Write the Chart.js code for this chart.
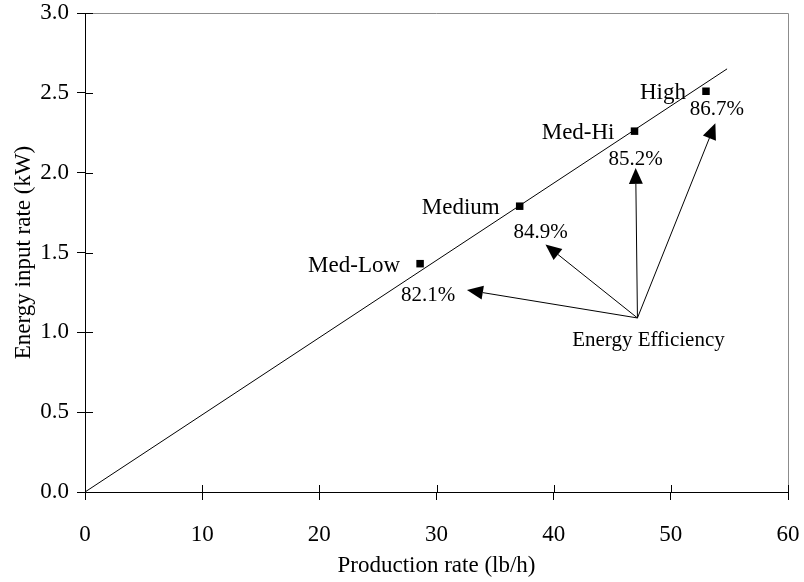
<!DOCTYPE html>
<html>
<head>
<meta charset="utf-8">
<script src="https://cdn.jsdelivr.net/npm/chart.js@4.4.1/dist/chart.umd.min.js"></script>
<style>
  html, body { margin: 0; padding: 0; background: #fff; }
  #wrap { width: 804px; height: 582px; }
</style>
</head>
<body>
<div id="wrap"><canvas id="chart" width="804" height="582"></canvas></div>
<script>
// speed settings: production rate vs energy input rate
const speedLabels = ['Med-Low', 'Medium', 'Med-Hi', 'High'];
const productionRate = [28.6, 37.1, 46.9, 53.0];
const energyInput = [1.43, 1.79, 2.26, 2.51];
const efficiencyLabels = ['82.1%', '84.9%', '85.2%', '86.7%'];

// straight reference line
const lineX = [0, 54.8];
const lineY = [0, 2.65];

// arrows from the "Energy Efficiency" note
const arrowFromX = 47.15;
const arrowFromY = 1.09;
const arrowTipX = [32.6, 39.3, 47.0, 53.8];
const arrowTipY = [1.265, 1.55, 2.03, 2.31];

const xTicks = [0, 10, 20, 30, 40, 50, 60];
const yTicks = [0, 0.5, 1.0, 1.5, 2.0, 2.5, 3.0];

const FONT = '"Liberation Serif", "Times New Roman", serif';
// pixel offsets of the % labels from each marker
const pctOffset = [[8, 32], [21, 26], [1, 28], [11, 18]];

const annot = {
    id: 'annot',
    afterDatasetsDraw(chart) {
        const ctx = chart.ctx;
        const xs = chart.scales.x, ys = chart.scales.y;
        const a = chart.chartArea;
        ctx.save();

        // gray frame top/right
        ctx.strokeStyle = '#8c8c8c';
        ctx.lineWidth = 1;
        ctx.beginPath();
        ctx.moveTo(a.left, a.top + 0.5);
        ctx.lineTo(a.right + 0.5, a.top + 0.5);
        ctx.lineTo(a.right + 0.5, a.bottom);
        ctx.stroke();

        // axes + inner tick halves
        ctx.strokeStyle = '#000';
        ctx.beginPath();
        ctx.moveTo(a.left + 0.5, a.top);
        ctx.lineTo(a.left + 0.5, a.bottom + 0.5);
        ctx.lineTo(a.right, a.bottom + 0.5);
        yTicks.forEach(v => {
            const p = Math.round(ys.getPixelForValue(v)) + 0.5;
            ctx.moveTo(a.left, p); ctx.lineTo(a.left + 8, p);
        });
        xTicks.forEach(v => {
            const p = Math.round(xs.getPixelForValue(v)) + 0.5;
            ctx.moveTo(p, a.bottom); ctx.lineTo(p, a.bottom - 7);
        });
        ctx.stroke();

        // arrows
        const ox = xs.getPixelForValue(arrowFromX);
        const oy = ys.getPixelForValue(arrowFromY);
        ctx.fillStyle = '#000';
        arrowTipX.forEach((tx, i) => {
            const px = xs.getPixelForValue(tx);
            const py = ys.getPixelForValue(arrowTipY[i]);
            const ang = Math.atan2(py - oy, px - ox);
            const len = 16, hw = 7;
            const bx = px - Math.cos(ang) * len, by = py - Math.sin(ang) * len;
            ctx.beginPath();
            ctx.moveTo(ox, oy);
            ctx.lineTo(bx, by);
            ctx.stroke();
            ctx.beginPath();
            ctx.moveTo(px, py);
            ctx.lineTo(bx + Math.sin(ang) * hw, by - Math.cos(ang) * hw);
            ctx.lineTo(bx - Math.sin(ang) * hw, by + Math.cos(ang) * hw);
            ctx.closePath();
            ctx.fill();
        });

        // text labels
        ctx.textBaseline = 'middle';
        ctx.font = '23px ' + FONT;
        ctx.textAlign = 'right';
        speedLabels.forEach((s, i) => {
            const px = xs.getPixelForValue(productionRate[i]);
            const py = ys.getPixelForValue(energyInput[i]);
            ctx.fillText(s, px - 20, py + 2);
        });
        ctx.font = '21px ' + FONT;
        ctx.textAlign = 'center';
        efficiencyLabels.forEach((s, i) => {
            const px = xs.getPixelForValue(productionRate[i]);
            const py = ys.getPixelForValue(energyInput[i]);
            ctx.fillText(s, px + pctOffset[i][0], py + pctOffset[i][1]);
        });
        ctx.fillText('Energy Efficiency', ox + 11, oy + 23);
        ctx.restore();
    }
};

new Chart(document.getElementById('chart'), {
    type: 'scatter',
    data: {
        datasets: [{
            type: 'line',
            data: lineX.map((x, i) => ({ x: x, y: lineY[i] })),
            borderColor: '#000',
            borderWidth: 1,
            pointRadius: 0,
            fill: false
        }, {
            data: productionRate.map((x, i) => ({ x: x, y: energyInput[i] })),
            pointStyle: 'rect',
            pointRadius: 5.3,
            backgroundColor: '#000',
            borderColor: '#000',
            borderWidth: 0
        }]
    },
    options: {
        responsive: false,
        animation: false,
        devicePixelRatio: 1,
        layout: { padding: { top: 13, right: 16, left: 0, bottom: 0 } },
        plugins: { legend: { display: false }, tooltip: { enabled: false } },
        scales: {
            x: {
                type: 'linear',
                min: 0, max: 60,
                afterBuildTicks: s => { s.ticks = xTicks.map(v => ({ value: v })); },
                afterFit: s => { s.height = 90; s.paddingLeft = 0; s.paddingRight = 0; },
                border: { display: false },
                grid: { drawOnChartArea: false, tickLength: 8, color: '#000' },
                ticks: {
                    color: '#000', padding: 21,
                    font: { family: FONT, size: 23 },
                    maxRotation: 0
                },
                title: {
                    display: true, text: 'Production rate (lb/h)', color: '#000',
                    font: { family: FONT, size: 23 }, padding: { top: 4, bottom: 2 }
                }
            },
            y: {
                type: 'linear',
                min: 0, max: 3,
                afterBuildTicks: s => { s.ticks = yTicks.map(v => ({ value: v })); },
                afterFit: s => { s.width = 85; s.paddingTop = 0; s.paddingBottom = 0; },
                border: { display: false },
                grid: { drawOnChartArea: false, tickLength: 8, color: '#000' },
                ticks: {
                    color: '#000', padding: 8,
                    font: { family: FONT, size: 23 },
                    callback: v => v.toFixed(1)
                },
                title: {
                    display: true, text: 'Energy input rate (kW)', color: '#000',
                    font: { family: FONT, size: 23 }, padding: { top: 10, bottom: 4 }
                }
            }
        }
    },
    plugins: [annot]
});
</script>
</body>
</html>
